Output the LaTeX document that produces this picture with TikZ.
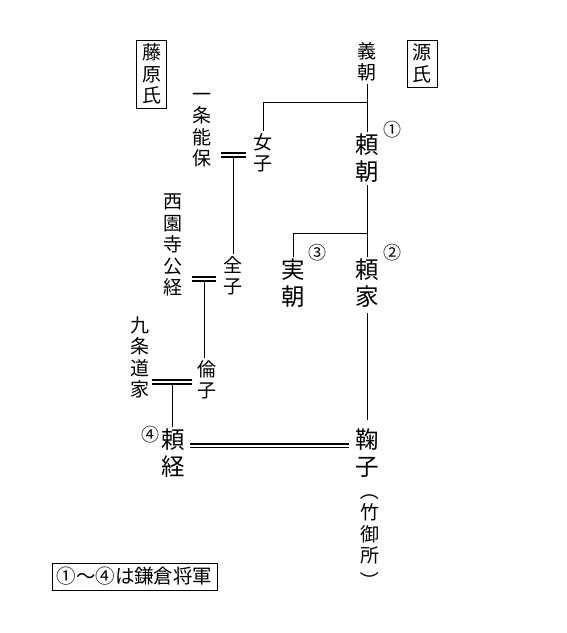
\documentclass[tikz,border=0pt]{standalone}
\usepackage{fontspec}
\usepackage{graphicx}
\newfontfamily\jp{Noto Sans CJK JP}
\usetikzlibrary{positioning}
\newcommand{\kochi}{\fontsize{19}{21.5}\jp}
\newcommand{\ochi}{\fontsize{23.5}{27}\jp}
\newcommand{\maruji}{\fontsize{18}{18}\jp}
% vertical brackets
\newcommand{\tatehiraki}{\raisebox{0.88em}{\rotatebox{-90}{（}}}
\newcommand{\tatetoji}{\raisebox{0.88em}{\rotatebox{-90}{）}}}

\begin{document}
\begin{tikzpicture}[x=1pt,y=-1pt,
    hito/.style={font=\kochi,align=center,inner sep=2pt},
    shogun/.style={font=\ochi,align=center,inner sep=2pt},
    bango/.style={font=\maruji,inner sep=0pt},
    uji/.style={draw,line width=0.7pt,font=\kochi,align=center,inner sep=0pt,minimum width=30pt},
    kei/.style={line width=0.7pt},
    kon/.style={double,line width=1.6pt,double distance=2pt}]
    \useasboundingbox (0,0) rectangle (567,633);
    % uji
    \node[uji,minimum height=68pt] (fujiwara) at (151.5,74) {藤\\原\\氏};
    \node[uji,minimum height=47pt] (minamoto) at (422,63.5) {源\\氏};
    % Minamoto side
    \node[hito] (yoshitomo) at (367,62) {義\\朝};
    \node[shogun] (yoritomo) at (367,158.5) {頼\\朝};
    \node[bango] (maru1) at (392,130) {①};
    \node[shogun] (yoriie) at (367,283.5) {頼\\家};
    \node[bango] (maru2) at (392,253) {②};
    \node[shogun] (sanetomo) at (293,283.5) {実\\朝};
    \node[bango] (maru3) at (317,253) {③};
    \node[shogun] (mariko) at (367,453.5) {鞠\\子};
    \node[hito] (takenogosho) at (370,536) {\tatehiraki\\竹\\御\\所\\[4pt]\tatetoji};
    % Fujiwara side
    \node[hito] (nyoshi) at (263,153) {女\\子};
    \node[hito] (yoshiyasu) at (202,130) {一\\条\\能\\保};
    \node[hito] (zenshi) at (233,276) {全\\子};
    \node[hito] (kintsune) at (173,245) {西\\園\\寺\\公\\経};
    \node[hito] (rinshi) at (207,380) {倫\\子};
    \node[hito] (michiie) at (140,357.5) {九\\条\\道\\家};
    \node[shogun] (yoritsune) at (173,453.5) {頼\\経};
    \node[bango] (maru4) at (150,435) {④};
    % legend
    \node[draw,line width=0.7pt,font=\fontsize{19.5}{19.5}\jp,minimum width=165pt,minimum height=27pt,inner sep=0pt] (hanrei) at (134.5,576.5) {①～④は鎌倉将軍};

    % parent -- child
    \coordinate (bunki1) at (367,102);
    \coordinate (bunki2) at (367,233);
    \draw[kei] (yoshitomo) -- (yoritomo);
    \draw[kei] (bunki1) -| (nyoshi);
    \draw[kei] (yoritomo) -- (yoriie);
    \draw[kei] (bunki2) -| (sanetomo);
    \draw[kei,shorten <=3pt,shorten >=7pt] (yoriie) -- (mariko);
    % marriages
    \coordinate (kon1) at (233.5,155);
    \coordinate (kon2) at (204,279);
    \coordinate (kon3) at (172,382);
    \coordinate (kon4) at (270,445.5);
    \draw[kei] (kon1) -- (kon1 |- zenshi.north);
    \draw[kon] ([xshift=-12.5pt]kon1) -- ([xshift=12.5pt]kon1);
    \draw[kei] (kon2) -- (kon2 |- rinshi.north);
    \draw[kon] ([xshift=-12pt]kon2) -- ([xshift=12pt]kon2);
    \draw[kei] (kon3) -- (kon3 |- yoritsune.north);
    \draw[kon] ([xshift=-20pt]kon3) -- ([xshift=20pt]kon3);
    \draw[kon,shorten <=3pt,shorten >=4pt] (yoritsune.east |- kon4) -- (mariko.west |- kon4);
\end{tikzpicture}
\end{document}
